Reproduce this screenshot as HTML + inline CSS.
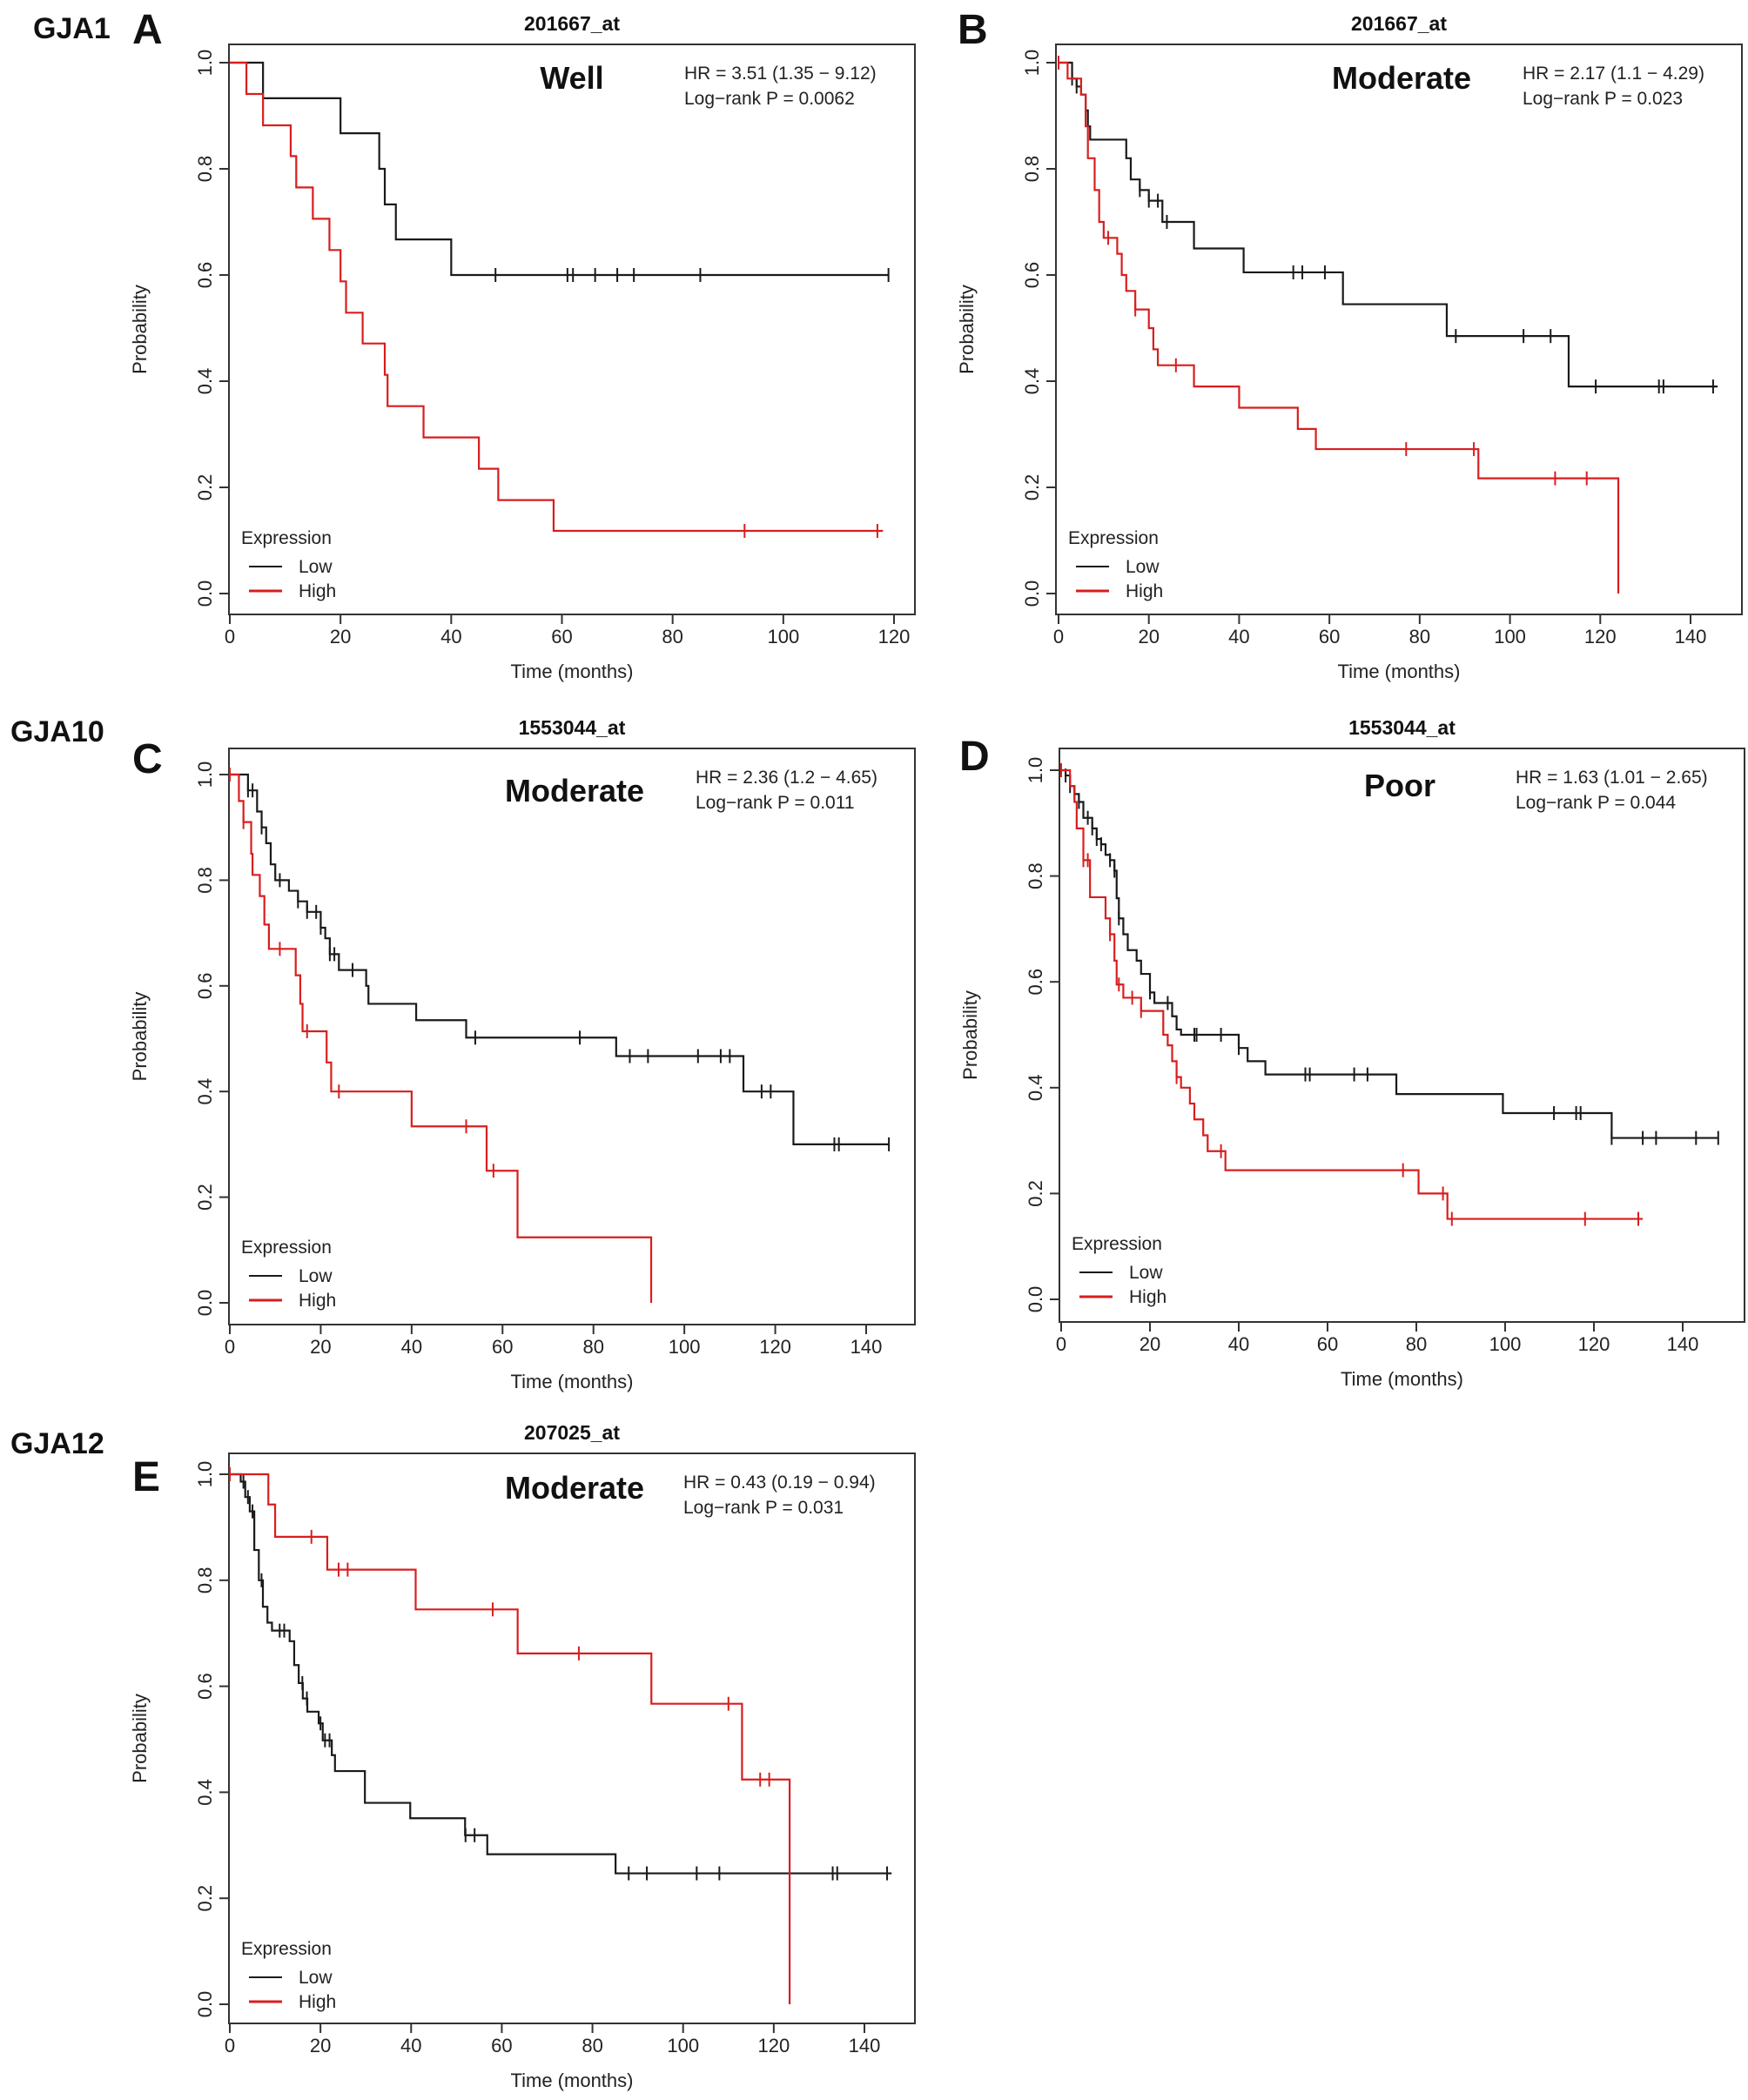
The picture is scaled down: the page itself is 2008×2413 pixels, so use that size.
<!DOCTYPE html>
<html><head><meta charset="utf-8">
<style>
html,body{margin:0;padding:0;background:#fff;}
svg{display:block;font-family:"Liberation Sans",Arial,sans-serif;}
</style></head>
<body>
<svg id="fig" width="2008" height="2413" viewBox="0 0 2008 2413" xmlns="http://www.w3.org/2000/svg"></svg>
<script>
// ---------- data ----------
const xTicksA = [0,20,40,60,80,100,120];
const xTicks140 = [0,20,40,60,80,100,120,140];
const yTicks = [0,0.2,0.4,0.6,0.8,1.0];

// Panel A (GJA1, Well)
const aLowT = [6,20,27,28,30,40];
const aLowS = [0.933,0.867,0.8,0.733,0.667,0.6];
const aLowCens = [48,61,62,66,70,73,85,119];
const aLowEnd = 119;
const aHighT = [3,6,11,12,15,18,20,21,24,28,28.5,35,45,48.5,58.5];
const aHighS = [0.941,0.882,0.824,0.765,0.706,0.647,0.588,0.529,0.471,0.412,0.353,0.294,0.235,0.176,0.118];
const aHighCens = [93,117];
const aHighEnd = 118;

// Panel B (GJA1, Moderate)
const bLowT = [3,4,5,6,6.5,7,15,16,18,20,23,30,41,63,86,113];
const bLowS = [0.97,0.955,0.94,0.91,0.88,0.855,0.82,0.78,0.76,0.74,0.70,0.65,0.605,0.545,0.485,0.39];
const bLowCens = [3,4,18,20,22,24,52,54,59,88,103,109,119,133,134,145];
const bLowEnd = 146;
const bHighT = [2,5,6,6.5,8,9,10,13,14,15,17,20,21,22,30,40,53,57,93,124];
const bHighS = [0.97,0.94,0.88,0.82,0.76,0.70,0.67,0.64,0.60,0.57,0.535,0.50,0.46,0.43,0.39,0.35,0.31,0.272,0.217,0];
const bHighCens = [0,11,17,26,77,92,110,117];
const bHighEnd = 124;

// Panel C (GJA10, Moderate)
const cLowT = [4,6,7,8,9,10,13,15,17,20,21,22,24,30,30.5,41,52,85,113,124];
const cLowS = [0.97,0.93,0.90,0.87,0.83,0.80,0.78,0.76,0.74,0.71,0.69,0.66,0.63,0.60,0.566,0.535,0.502,0.467,0.40,0.30];
const cLowCens = [4,5,7,11,15,17,19,20,22,23,27,54,77,88,92,103,108,110,117,119,133,134,145];
const cLowEnd = 145;
const cHighT = [2,3,4.7,5,6.6,7.6,8.6,14.5,15.5,16,21.3,22.3,40,56.5,63.3,92.7];
const cHighS = [0.95,0.91,0.85,0.81,0.77,0.716,0.67,0.62,0.566,0.514,0.455,0.40,0.334,0.25,0.124,0];
const cHighCens = [0,3,11,17,24,52,58];
const cHighEnd = 92.7;

// Panel D (GJA10, Poor)
const dLowT = [1,2,3,4,5,7,8,9,10,11,12,12.5,13,14,15,17,18,20,21,25,26,27,40,42,46,75.5,99.5,124];
const dLowS = [0.99,0.97,0.955,0.94,0.91,0.89,0.87,0.86,0.84,0.83,0.81,0.758,0.72,0.69,0.66,0.64,0.615,0.58,0.56,0.535,0.51,0.50,0.475,0.45,0.425,0.388,0.352,0.305];
const dLowCens = [1,2,3,4,6,7,8,9,11,12,13,20,24,30,30.5,36,40,55,56,66,69,111,116,117,124,131,134,143,148];
const dLowEnd = 148;
const dHighT = [2,3,3.5,5,6.5,10,11,12,12.5,14,18,23,24,25,26,27,29,30,32,33,37,80.5,87];
const dHighS = [0.97,0.94,0.89,0.83,0.76,0.72,0.69,0.64,0.595,0.57,0.545,0.50,0.48,0.45,0.42,0.40,0.37,0.34,0.31,0.28,0.244,0.20,0.152];
const dHighCens = [0,5,6,11,13,16,18,26,36,77,86,88,118,130];
const dHighEnd = 131;

// Panel E (GJA12, Moderate)
const eLowT = [2.4,3.4,4.4,5.4,6.4,7.3,8.3,9.3,13.2,14.2,15.2,16.1,17.1,19.6,20.5,22.5,23.2,29.8,39.8,51.9,56.8,85.1];
const eLowS = [0.986,0.957,0.93,0.857,0.80,0.75,0.72,0.705,0.685,0.64,0.606,0.577,0.552,0.53,0.498,0.47,0.44,0.38,0.351,0.319,0.283,0.247];
const eLowCens = [3,4,5,7,11,12,16,17,20,21,22,52,54,88,92,103,108,133,134,145];
const eLowEnd = 146;
const eHighT = [8.5,10,21.5,41,63.5,93,113,123.5];
const eHighS = [0.943,0.882,0.82,0.745,0.662,0.567,0.424,0];
const eHighCens = [0,18,24,26,58,77,110,117,119];
const eHighEnd = 123.5;

// ---------- drawing ----------
const NS = "http://www.w3.org/2000/svg";
const svg = document.getElementById('fig');
function mk(tag, attrs, parent, text){
  const e = document.createElementNS(NS, tag);
  for (const k in attrs) e.setAttribute(k, attrs[k]);
  if (text !== undefined) e.textContent = text;
  (parent || svg).appendChild(e);
  return e;
}
const BLACK = "#1a1a1a", RED = "#d81e1e";

function panel(cfg){
  const g = mk('g', {});
  
  
  const xS = t => cfg.x0 + (t / cfg.xMax) * (cfg.xEnd - cfg.x0);
  const yS = s => cfg.y0 + s * (cfg.y1 - cfg.y0);
  const box = mk('rect', {x:cfg.L, y:cfg.T, width:cfg.R-cfg.L, height:cfg.B-cfg.T, fill:'none', stroke:'#333', 'stroke-width':2}, g);
  
  
  const tt = mk('text', {x:(cfg.L+cfg.R)/2, y:cfg.T-16, 'text-anchor':'middle', 'font-size':23, 'font-weight':'bold', fill:'#111'}, g, cfg.title);
  
  
  cfg.xTicks.forEach(v => {
    const x = xS(v);
    const tk = mk('line', {x1:x, x2:x, y1:cfg.B, y2:cfg.B+11, stroke:'#333', 'stroke-width':2}, g);
    
    
    const tl = mk('text', {x:x, y:cfg.B+33, 'text-anchor':'middle', 'font-size':22, fill:'#222'}, g, String(v));
    
    
  });
  yTicks.forEach(v => {
    const y = yS(v);
    const tk = mk('line', {x1:cfg.L-11, x2:cfg.L, y1:y, y2:y, stroke:'#333', 'stroke-width':2}, g);
    
    
    const tx = cfg.L - 20;
    const tl = mk('text', {x:tx, y:y, 'text-anchor':'middle', 'font-size':22, fill:'#222', transform:`rotate(-90 ${tx} ${y})`}, g, v.toFixed(1));
    
    
  });
  const xt = mk('text', {x:(cfg.L+cfg.R)/2, y:cfg.B+73, 'text-anchor':'middle', 'font-size':22, fill:'#222'}, g, 'Time (months)');
  
  
  const yx = cfg.L - 95, yy = (cfg.T+cfg.B)/2;
  const yt = mk('text', {x:yx, y:yy, 'text-anchor':'middle', 'font-size':22, fill:'#222', transform:`rotate(-90 ${yx} ${yy})`}, g, 'Probability');
  
  
  function curve(T, S, cens, end, color, name){
    let d = `M${xS(0)},${yS(1)}`;
    for (let i = 0; i < T.length; i++){
      d += ` H${xS(T[i])} V${yS(S[i])}`;
    }
    d += ` H${xS(end)}`;
    const p = mk('path', {d:d, fill:'none', stroke:color, 'stroke-width':2.2}, g);
    
    
    cens.forEach(c => {
      let sv = 1;
      for (let i = 0; i < T.length; i++) if (T[i] <= c) sv = S[i];
      const x = xS(c), y = yS(sv);
      const m = mk('line', {x1:x, x2:x, y1:y-8, y2:y+8, stroke:color, 'stroke-width':2}, g);
      
      
    });
  }
  curve(cfg.lowT, cfg.lowS, cfg.lowC, cfg.lowEnd, BLACK, 'low');
  curve(cfg.highT, cfg.highS, cfg.highC, cfg.highEnd, RED, 'high');
  const lg = mk('g', {}, g);
  
  
  mk('text', {x:cfg.L+14, y:cfg.y0-57, 'font-size':21, fill:'#222'}, lg, 'Expression');
  const l1 = mk('line', {x1:cfg.L+23, x2:cfg.L+61, y1:cfg.y0-31, y2:cfg.y0-31, stroke:BLACK, 'stroke-width':2}, lg);
  
  
  mk('text', {x:cfg.L+80, y:cfg.y0-24, 'font-size':21, fill:'#222'}, lg, 'Low');
  const l2 = mk('line', {x1:cfg.L+23, x2:cfg.L+61, y1:cfg.y0-3, y2:cfg.y0-3, stroke:RED, 'stroke-width':3}, lg);
  
  
  mk('text', {x:cfg.L+80, y:cfg.y0+4, 'font-size':21, fill:'#222'}, lg, 'High');
  const gl = mk('text', {x:cfg.gx, y:cfg.gy, 'text-anchor':'middle', 'font-size':36, 'font-weight':'bold', fill:'#111'}, g, cfg.grade);
  
  
  const hr = mk('text', {x:cfg.hx, y:cfg.T+40, 'font-size':21, fill:'#222'}, g, cfg.hr);
  
  
  const lr = mk('text', {x:cfg.hx, y:cfg.T+69, 'font-size':21, fill:'#222'}, g, cfg.p);
  
  
  const pl = mk('text', {x:cfg.lx, y:cfg.ly, 'font-size':48, 'font-weight':'bold', fill:'#111'}, svg, cfg.id);
  
  
}

function gene(txt, x, y){
  const t = mk('text', {x:x, y:y, 'font-size':34, 'font-weight':'bold', fill:'#111'}, svg, txt);
  
  
}
gene('GJA1', 38, 44);
gene('GJA10', 12, 852);
gene('GJA12', 12, 1670);

panel({id:'A', title:'201667_at', L:263, R:1051, T:51, B:706, x0:264, xEnd:1027, xMax:120, y0:682, y1:72,
  xTicks:xTicksA, lowT:aLowT, lowS:aLowS, lowC:aLowCens, lowEnd:aLowEnd, highT:aHighT, highS:aHighS, highC:aHighCens, highEnd:aHighEnd,
  grade:'Well', gx:657, gy:102, hr:'HR = 3.51 (1.35 − 9.12)', p:'Log−rank P = 0.0062', hx:786, lx:152, ly:50});
panel({id:'B', title:'201667_at', L:1213, R:2001, T:51, B:706, x0:1216, xEnd:1942, xMax:140, y0:682, y1:72,
  xTicks:xTicks140, lowT:bLowT, lowS:bLowS, lowC:bLowCens, lowEnd:bLowEnd, highT:bHighT, highS:bHighS, highC:bHighCens, highEnd:bHighEnd,
  grade:'Moderate', gx:1610, gy:102, hr:'HR = 2.17 (1.1 − 4.29)', p:'Log−rank P = 0.023', hx:1749, lx:1100, ly:50});
panel({id:'C', title:'1553044_at', L:263, R:1051, T:860, B:1522, x0:264, xEnd:995, xMax:140, y0:1497, y1:890,
  xTicks:xTicks140, lowT:cLowT, lowS:cLowS, lowC:cLowCens, lowEnd:cLowEnd, highT:cHighT, highS:cHighS, highC:cHighCens, highEnd:cHighEnd,
  grade:'Moderate', gx:660, gy:921, hr:'HR = 2.36 (1.2 − 4.65)', p:'Log−rank P = 0.011', hx:799, lx:152, ly:888});
panel({id:'D', title:'1553044_at', L:1217, R:2004, T:860, B:1519, x0:1219, xEnd:1933, xMax:140, y0:1493, y1:885,
  xTicks:xTicks140, lowT:dLowT, lowS:dLowS, lowC:dLowCens, lowEnd:dLowEnd, highT:dHighT, highS:dHighS, highC:dHighCens, highEnd:dHighEnd,
  grade:'Poor', gx:1608, gy:915, hr:'HR = 1.63 (1.01 − 2.65)', p:'Log−rank P = 0.044', hx:1741, lx:1102, ly:885});
panel({id:'E', title:'207025_at', L:263, R:1051, T:1670, B:2325, x0:264, xEnd:993, xMax:140, y0:2303, y1:1694,
  xTicks:xTicks140, lowT:eLowT, lowS:eLowS, lowC:eLowCens, lowEnd:eLowEnd, highT:eHighT, highS:eHighS, highC:eHighCens, highEnd:eHighEnd,
  grade:'Moderate', gx:660, gy:1722, hr:'HR = 0.43 (0.19 − 0.94)', p:'Log−rank P = 0.031', hx:785, lx:152, ly:1713});
</script>
</body></html>
